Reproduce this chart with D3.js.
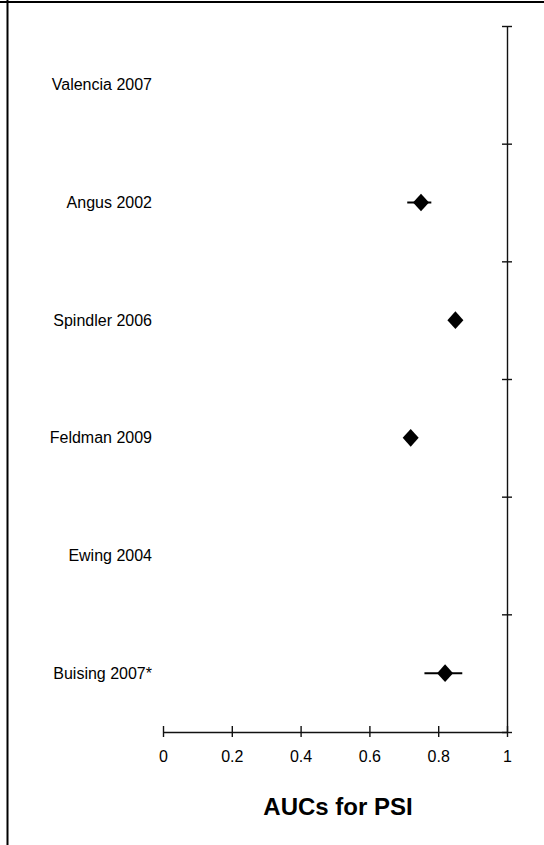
<!DOCTYPE html>
<html>
<head>
<meta charset="utf-8">
<script src="https://cdn.jsdelivr.net/npm/d3@7"></script>
<style>
  html, body { margin: 0; padding: 0; background: #fff; }
  svg { display: block; }
  text { font-family: "Liberation Sans", Arial, sans-serif; fill: #000; }
</style>
</head>
<body>
<svg id="chart" width="544" height="845"></svg>
<script>
// ---- data ----
const studies = ["Valencia 2007", "Angus 2002", "Spindler 2006", "Feldman 2009", "Ewing 2004", "Buising 2007*"];
const auc     = [null, 0.75, 0.85, 0.72, null, 0.82];
const ciLow   = [null, 0.71, null, null, null, 0.76];
const ciHigh  = [null, 0.78, null, null, null, 0.87];
const xTicks  = [0, 0.2, 0.4, 0.6, 0.8, 1];
const xTitle  = "AUCs for PSI";

(function () {
  // ---- layout ----
  const svg = d3.select("#chart");
  const plotL = 163, plotR = 507, plotT = 26, plotB = 732;

  const x = d3.scaleLinear().domain([0, 1]).range([plotL, plotR]);
  const y = d3.scaleBand().domain(studies).range([plotT, plotB]).paddingInner(0).paddingOuter(0);
  const cy = s => y(s) + y.bandwidth() / 2;

  // frame (left + top lines)
  svg.append("line").attr("x1", 7.5).attr("x2", 7.5).attr("y1", 0).attr("y2", 845)
    .attr("stroke", "#000").attr("stroke-width", 2);
  svg.append("line").attr("x1", 0).attr("x2", 544).attr("y1", 2).attr("y2", 2)
    .attr("stroke", "#000").attr("stroke-width", 2);

  // x axis
  const xAxis = svg.append("g").attr("transform", `translate(0,${plotB})`)
    .call(d3.axisBottom(x).tickValues(xTicks).tickFormat(d3.format("")).tickSizeInner(5).tickSizeOuter(0).tickPadding(14));
  xAxis.select(".domain").attr("stroke", "#111").attr("stroke-width", 1.4);
  xAxis.selectAll(".tick line").attr("stroke", "#111").attr("stroke-width", 1.4).attr("y1", -6);
  xAxis.selectAll(".tick text").attr("font-size", 16).attr("font-family", "Liberation Sans, Arial, sans-serif").attr("fill", "#000");

  // y axis on the right (band boundaries as ticks)
  const yLin = d3.scaleLinear().domain([0, studies.length]).range([plotT, plotB]);
  const yAxis = svg.append("g").attr("transform", `translate(${plotR},0)`)
    .call(d3.axisRight(yLin).tickValues(d3.range(studies.length + 1)).tickFormat("").tickSizeInner(5).tickSizeOuter(0));
  yAxis.select(".domain").attr("stroke", "#111").attr("stroke-width", 1.4);
  yAxis.selectAll(".tick line").attr("stroke", "#111").attr("stroke-width", 1.4).attr("x1", -5);

  // study labels
  svg.append("g").selectAll("text").data(studies).join("text")
    .attr("x", 152)
    .attr("y", d => cy(d))
    .attr("dy", "0.35em")
    .attr("text-anchor", "end")
    .attr("font-size", 16)
    .text(d => d);

  // confidence intervals
  const rows = studies.map((s, i) => ({ s, v: auc[i], lo: ciLow[i], hi: ciHigh[i] }));
  svg.append("g").selectAll("line").data(rows.filter(r => r.lo != null && r.hi != null)).join("line")
    .attr("x1", d => x(d.lo)).attr("x2", d => x(d.hi))
    .attr("y1", d => cy(d.s)).attr("y2", d => cy(d.s))
    .attr("stroke", "#000").attr("stroke-width", 2);

  // diamonds
  const diamond = {
    draw(ctx, size) {
      const w = Math.sqrt(size) / 2, h = w * 1.1;
      ctx.moveTo(0, -h); ctx.lineTo(w, 0); ctx.lineTo(0, h); ctx.lineTo(-w, 0); ctx.closePath();
    }
  };
  svg.append("g").selectAll("path").data(rows.filter(r => r.v != null)).join("path")
    .attr("transform", d => `translate(${x(d.v)},${cy(d.s)})`)
    .attr("d", d3.symbol(diamond, 256))
    .attr("fill", "#000");

  // axis title
  svg.append("text")
    .attr("x", (plotL + plotR) / 2 + 3)
    .attr("y", 815)
    .attr("text-anchor", "middle")
    .attr("font-size", 24)
    .attr("font-weight", "bold")
    .text(xTitle);
})();
</script>
</body>
</html>
